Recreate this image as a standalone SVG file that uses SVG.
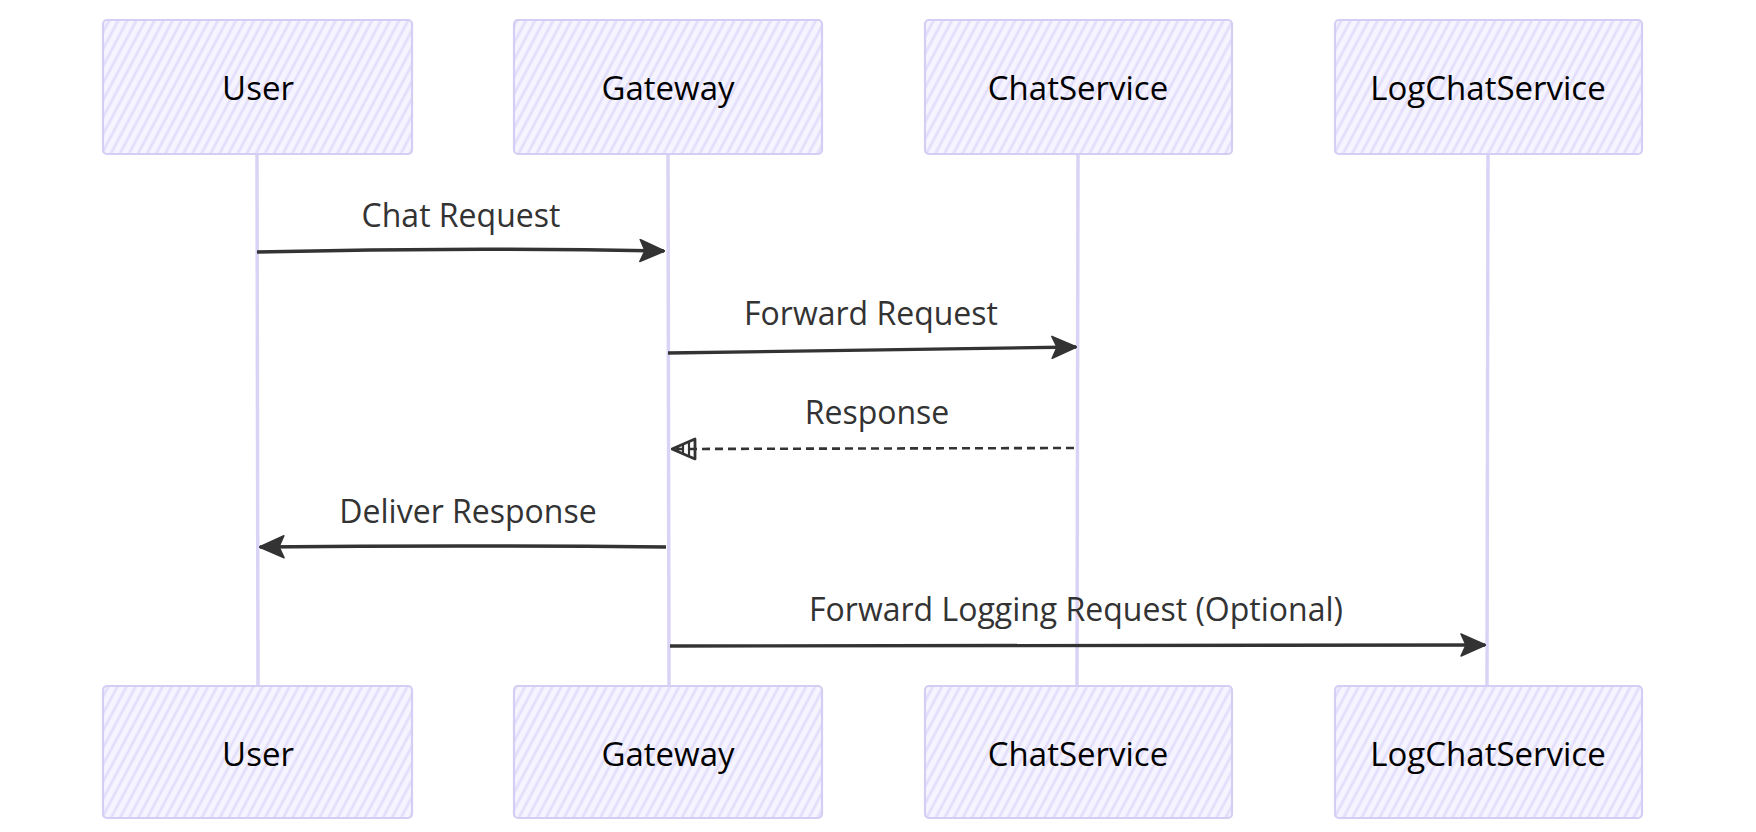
<svg xmlns="http://www.w3.org/2000/svg" width="1756" height="832" viewBox="0 0 1756 832">
<defs>
<pattern id="hatch" width="8" height="8" patternUnits="userSpaceOnUse" patternTransform="rotate(28)">
<rect width="8" height="8" fill="#f6f5ff"/>
<line x1="2" y1="0" x2="2" y2="8" stroke="#e2defb" stroke-width="2.8"/>
</pattern>
<marker id="filled" viewBox="0 0 26 24" markerWidth="26" markerHeight="24" refX="25" refY="12" orient="auto" markerUnits="userSpaceOnUse">
<path d="M1,1 L26,12 L1,23 L6,12 Z" fill="#333" stroke="#333" stroke-width="1.5" stroke-linejoin="round"/>
</marker>
<marker id="open" viewBox="0 0 26 24" markerWidth="26" markerHeight="24" refX="25" refY="12" orient="auto" markerUnits="userSpaceOnUse">
<path d="M2,2 L25,12 L2,22 Z" fill="none" stroke="#333" stroke-width="2.8" stroke-linejoin="round"/>
<path d="M8,4.5 L8,19.5 M14,7 L14,17 M19,9.5 L19,14.5" stroke="#333" stroke-width="2.2"/>
</marker>
<style>
.actor rect{fill:url(#hatch);stroke:#d5cdf3;stroke-width:2.2}
.actor text{font-family:"Open Sans","Liberation Sans",sans-serif;font-size:33px;font-weight:500;fill:#000;text-anchor:middle;dominant-baseline:central}
.life{stroke:#dad3f5;stroke-width:3.5;fill:none}
.msg{stroke:#333;stroke-width:3.4;fill:none}
.dash{stroke-dasharray:8 5;stroke-width:2.6}
.lbl{font-family:"Open Sans","Liberation Sans",sans-serif;font-size:32px;font-weight:500;fill:#333;text-anchor:middle;dominant-baseline:central}
</style>
</defs>
<rect width="1756" height="832" fill="#ffffff"/>
<g id="lifelines">
<line class="life" x1="257" y1="154" x2="258" y2="686"/>
<line class="life" x1="668" y1="154" x2="669" y2="686"/>
<line class="life" x1="1078" y1="154" x2="1077" y2="686"/>
<line class="life" x1="1488" y1="154" x2="1487" y2="686"/>
</g>
<g id="actor-user-top" class="actor"><rect x="103" y="20" width="309" height="134" rx="4"/><text x="258" y="87">User</text></g>
<g id="actor-gateway-top" class="actor"><rect x="514" y="20" width="308" height="134" rx="4"/><text x="668" y="87">Gateway</text></g>
<g id="actor-chat-top" class="actor"><rect x="925" y="20" width="307" height="134" rx="4"/><text x="1078" y="87">ChatService</text></g>
<g id="actor-log-top" class="actor"><rect x="1335" y="20" width="307" height="134" rx="4"/><text x="1488" y="87">LogChatService</text></g>
<g id="actor-user-bottom" class="actor"><rect x="103" y="686" width="309" height="132" rx="4"/><text x="258" y="753">User</text></g>
<g id="actor-gateway-bottom" class="actor"><rect x="514" y="686" width="308" height="132" rx="4"/><text x="668" y="753">Gateway</text></g>
<g id="actor-chat-bottom" class="actor"><rect x="925" y="686" width="307" height="132" rx="4"/><text x="1078" y="753">ChatService</text></g>
<g id="actor-log-bottom" class="actor"><rect x="1335" y="686" width="307" height="132" rx="4"/><text x="1488" y="753">LogChatService</text></g>
<g id="connectors">
<path class="msg" d="M257,252 Q460,247 664,251" marker-end="url(#filled)"/>
<text class="lbl" x="461" y="214">Chat Request</text>
<path class="msg" d="M668,353 L1076,347" marker-end="url(#filled)"/>
<text class="lbl" x="871" y="312">Forward Request</text>
<path class="msg dash" d="M1074,448 L672,449" marker-end="url(#open)"/>
<text class="lbl" x="877" y="411">Response</text>
<path class="msg" d="M666,547 Q460,545 260,547" marker-end="url(#filled)"/>
<text class="lbl" x="468" y="510">Deliver Response</text>
<path class="msg" d="M670,646 L1485,645" marker-end="url(#filled)"/>
<text class="lbl" x="1076" y="608">Forward Logging Request (Optional)</text>
</g>
</svg>
